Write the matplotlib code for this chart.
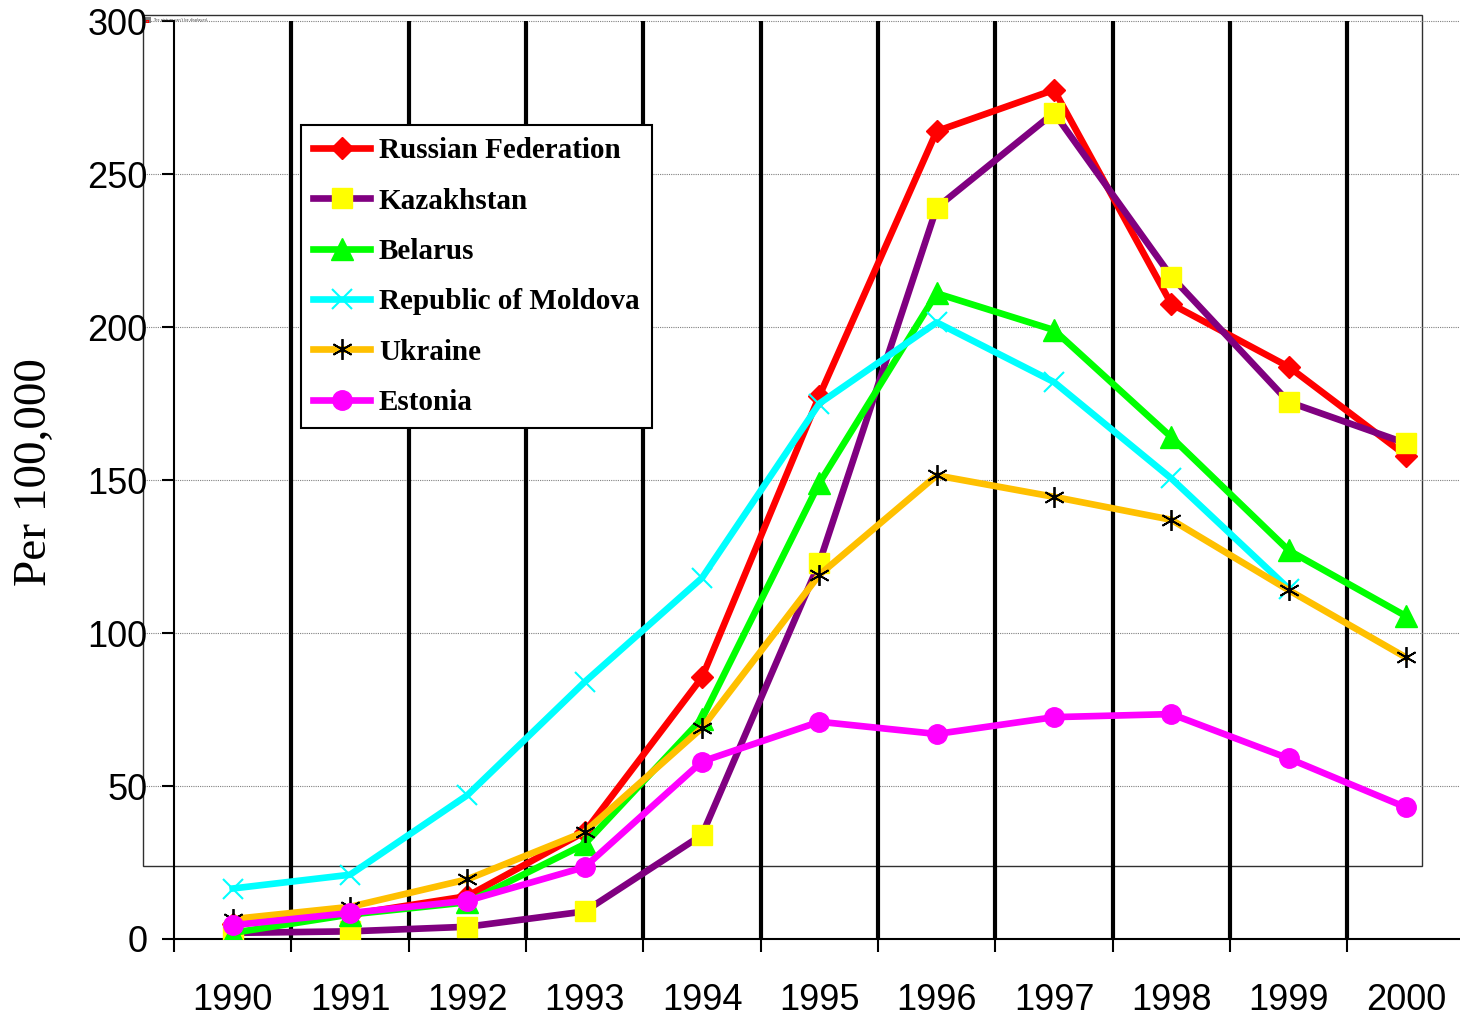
import numpy as np
import matplotlib
matplotlib.use("Agg")
import matplotlib.pyplot as plt
from matplotlib.patches import Rectangle

years = ["1990", "1991", "1992", "1993", "1994", "1995",
         "1996", "1997", "1998", "1999", "2000"]

russia = [5, 8, 14, 35, 85.5, 177.5, 264, 277.5, 207.5, 187, 158]
kazakhstan = [2, 2.5, 4, 9, 34, 123, 239, 270, 216.5, 175.5, 162]
belarus = [2, 8, 12, 31, 72, 149, 211, 199, 164, 127, 105.5]
moldova = [16.5, 21, 47, 84, 118, 175, 201.5, 182, 150.5, 114.5, np.nan]
ukraine = [6.5, 10.5, 19.5, 35, 69, 119, 151.5, 144.5, 137, 114, 92]
estonia = [4.5, 8.5, 12.5, 23.5, 58, 71, 67, 72.5, 73.5, 59, 43]

W, H = 1460, 1017
fig = plt.figure(figsize=(W / 100, H / 100), dpi=100)
ax = fig.add_axes([174 / W, 1 - 939 / H, (W - 174) / W, (939 - 21) / H])
ax.patch.set_alpha(0)

x = np.arange(len(years))

# odd leftover plot-area frame from the original chart
fig.add_artist(Rectangle((143 / W, 1 - 866 / H), (1422 - 143) / W, (866 - 15) / H,
                         fill=False, ec="#303030", lw=1.0,
                         transform=fig.transFigure, zorder=-1))
fig.add_artist(Rectangle((145 / W, 1 - 23 / H), 6 / W, 6 / H, fc="#808080",
                         ec="none", transform=fig.transFigure, zorder=-1))
fig.add_artist(Rectangle((146 / W, 1 - 23 / H), 3 / W, 3 / H, fc="red",
                         ec="none", transform=fig.transFigure, zorder=-1))
fig.text(153 / W, 1 - 20 / H, "The picture can't be displayed.", fontsize=2.5,
         color="#404040", va="center")

# grid: dotted horizontals, heavy verticals between the years
ax.hlines(np.arange(50, 301, 50), -0.758, 10.46, colors="#808080",
          linestyles=(0, (1, 1)), lw=0.8, clip_on=False, zorder=0)
ax.vlines(np.arange(0.5, 10, 1), 0, 300, colors="black", lw=3, zorder=1)

series = [
    ("Russian Federation", russia, "#FF0000", dict(marker="D", ms=11, mfc="#FF0000", mec="#FF0000")),
    ("Kazakhstan", kazakhstan, "#800080", dict(marker="s", ms=15, mfc="#FFFF00", mec="#FFFF00")),
    ("Belarus", belarus, "#00FF00", dict(marker="^", ms=16, mfc="#00FF00", mec="#00FF00")),
    ("Republic of Moldova", moldova, "#00FFFF", dict(marker="x", ms=14, mec="#00FFFF", mew=1.5)),
    ("Ukraine", ukraine, "#FFC000", dict(marker=(6, 2, 0), ms=15, mec="black", mew=1.3)),
    ("Estonia", estonia, "#FF00FF", dict(marker="o", ms=14, mfc="#FF00FF", mec="#FF00FF")),
]
for name, vals, col, mk in series:
    ax.plot(x, vals, color=col, lw=4.8, label=name, zorder=3, **mk)

ax.set_xlim(-0.5, 10.46)
ax.set_ylim(0, 300)

ax.set_xticks(x)
ax.set_xticklabels(years, fontsize=26, family="Liberation Sans")
ax.set_xticks(np.arange(-0.5, 10, 1), minor=True)
ax.tick_params(axis="x", which="major", length=0, pad=32)
ax.tick_params(axis="x", which="minor", length=9, width=1.5, direction="out")
ax.set_yticks(np.arange(0, 301, 50))
ax.set_yticklabels([str(v) for v in range(0, 301, 50)], fontsize=26,
                   family="Liberation Sans")
ax.tick_params(axis="y", length=9, width=1.5, pad=10)

for s in ["top", "right"]:
    ax.spines[s].set_visible(False)
ax.spines["left"].set_linewidth(1.5)
ax.spines["bottom"].set_linewidth(1.5)

fig.text(35 / W, 1 - 472 / H, "Per 100,000", rotation=90, ha="center",
         va="center", fontsize=34, family="Liberation Serif")

leg = ax.legend(loc="upper left", bbox_to_anchor=(301 / W, 1 - 125 / H),
                bbox_transform=fig.transFigure, borderaxespad=0,
                prop=dict(family="Liberation Serif", weight="bold", size=21),
                handlelength=1.95, handletextpad=0.3, labelspacing=0.8,
                borderpad=0.42, fancybox=False, framealpha=1, edgecolor="black")
leg.get_frame().set_linewidth(1.5)
leg.set_zorder(5)

fig.savefig("out.png", dpi=100)
